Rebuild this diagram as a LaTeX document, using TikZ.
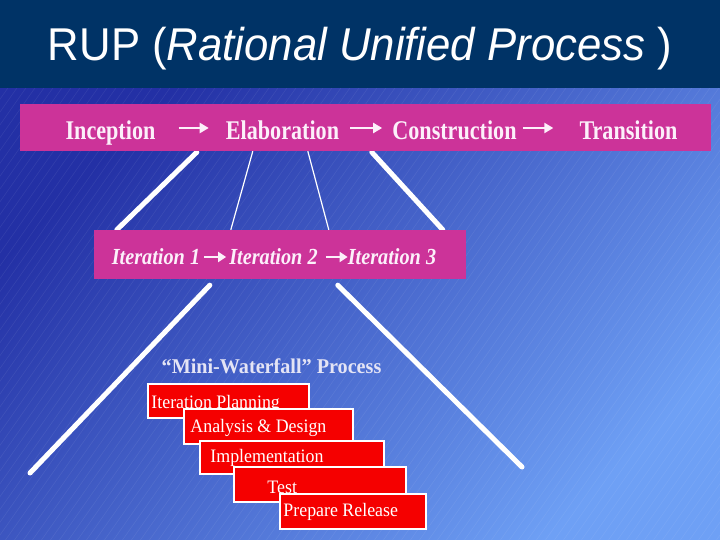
\documentclass[tikz,border=0pt]{standalone}
\usepackage{fontspec}
\setmainfont{Liberation Serif}
\newfontfamily\titlefont[FakeStretch=0.95]{Liberation Sans}
\newfontfamily\phasefont[FakeStretch=0.82]{Liberation Serif}
\newfontfamily\iterfont[FakeStretch=0.88]{Liberation Serif}
\newfontfamily\mwfont[FakeStretch=0.96]{Liberation Serif}
\newfontfamily\stepfont[FakeStretch=0.94]{Liberation Serif}
\usetikzlibrary{arrows.meta,calc}
\definecolor{navy}{RGB}{0,51,102}
\definecolor{bgdark}{RGB}{35,48,165}
\definecolor{bglight}{RGB}{110,160,245}
\definecolor{magbar}{RGB}{204,51,153}
\definecolor{boxred}{RGB}{245,0,0}
\definecolor{mwtext}{RGB}{228,228,245}
\definecolor{phasetext}{RGB}{252,240,250}
\pgfdeclarelayer{back}
\pgfdeclarelayer{mid}
\pgfsetlayers{back,mid,main}
\tikzset{
  bar/.style={fill=magbar, inner sep=0pt},
  phase/.style={font=\phasefont\bfseries\fontsize{27}{27}\selectfont, text=phasetext, inner sep=0pt, anchor=base},
  iter/.style={font=\iterfont\bfseries\itshape\fontsize{23}{23}\selectfont, text=phasetext, inner sep=0pt, anchor=base},
  phasearr/.style={draw=phasetext, line width=2.2pt, -{Triangle[length=9pt,width=10pt]}},
  iterarr/.style={draw=phasetext, line width=2.6pt, -{Triangle[length=8pt,width=10pt]}},
  thickline/.style={draw=white, line width=5pt, line cap=round},
  thinline/.style={draw=white, line width=1.2pt},
  stepbox/.style={fill=boxred, draw=white, line width=1.5pt, inner sep=0pt},
  steptext/.style={font=\stepfont\fontsize{19}{19}\selectfont, text=white, inner sep=0pt, anchor=base west},
  stripe/.style={draw=white, opacity=0.07, line width=0.6pt}
}
\begin{document}
\begin{tikzpicture}[x=1pt,y=-1pt]
\useasboundingbox (0,0) rectangle (720,540);
\begin{pgfonlayer}{back}
  \shade[top color=bgdark, bottom color=bglight, shading angle=45] (0,88) rectangle (720,540);
  \begin{scope}
    \clip (0,88) rectangle (720,540);
    \foreach \i in {-340,-331,...,720} \draw[stripe] (\i,545) -- ++(330,-470);
  \end{scope}
  \fill[navy] (0,0) rectangle (720,88);
\end{pgfonlayer}

% title
\node[font=\titlefont\fontsize{46}{46}\selectfont, text=white, inner sep=0pt, anchor=base] (title) at (360,61)
  {RUP (\textit{Rational Unified Process} )};

% top phases bar
\node[bar, minimum width=691pt, minimum height=47pt] (topbar) at (365.5,127.5) {};
\node[phase] (inc) at (110.5,140) {Inception};
\node[phase] (elab) at (282.5,140) {Elaboration};
\node[phase] (cons) at (454.5,140) {Construction};
\node[phase] (trans) at (628.5,140) {Transition};
\draw[phasearr] ($(inc.base east)+(23,-12)$) -- ($(elab.base west)+(-17,-12)$);
\draw[phasearr] ($(elab.base east)+(11,-12)$) -- ($(cons.base west)+(-10,-12)$);
\draw[phasearr] ($(cons.base east)+(6,-12)$) -- ($(trans.base west)+(-26,-12)$);

% iteration bar
\node[bar, minimum width=372pt, minimum height=49pt] (iterbar) at (280,254.5) {};
\node[iter] (it1) at (156,264) {Iteration 1};
\node[iter] (it2) at (273.5,264) {Iteration 2};
\node[iter] (it3) at (392,264) {Iteration 3};
\draw[iterarr] ($(it1.base east)+(4,-7)$) -- ($(it2.base west)+(-3,-7)$);
\draw[iterarr] ($(it2.base east)+(8,-7)$) -- ($(it3.base west)+(0,-7)$);

% connecting lines
\coordinate (lowleft) at (30,473);
\coordinate (lowright) at (522,467);
\begin{pgfonlayer}{mid}
  \draw[thickline] ($(topbar.south west)+(177,1)$) -- ($(iterbar.north west)+(23,0)$);
  \draw[thinline] ($(topbar.south west)+(233,0)$) -- ($(iterbar.north west)+(137,0)$);
  \draw[thinline] ($(topbar.south west)+(288,0)$) -- ($(iterbar.north west)+(235,0)$);
  \draw[thickline] ($(topbar.south west)+(352,1)$) -- ($(iterbar.north west)+(349,0)$);
  \draw[thickline] ($(iterbar.south west)+(116,6)$) -- (lowleft);
  \draw[thickline] ($(iterbar.south west)+(244,6)$) -- (lowright);
\end{pgfonlayer}

% mini waterfall
\node[font=\mwfont\bfseries\fontsize{21}{21}\selectfont, text=mwtext, inner sep=0pt, anchor=base] (mw) at (271.5,373)
  {“Mini-Waterfall” Process};

\node[stepbox, minimum width=161pt, minimum height=34pt] (b1) at (228.5,401) {};
\node[steptext] (t1) at ($(b1.south west)+(4,-10)$) {Iteration Planning};
\node[stepbox, minimum width=169pt, minimum height=35pt] (b2) at (268.5,426.5) {};
\node[steptext] (t2) at ($(b2.south west)+(7,-12)$) {Analysis \& Design};
\node[stepbox, minimum width=184pt, minimum height=33pt] (b3) at (292,457.5) {};
\node[steptext] (t3) at ($(b3.south west)+(11,-12)$) {Implementation};
\node[stepbox, minimum width=172pt, minimum height=35pt] (b4) at (320,484.5) {};
\node[steptext] (t4) at ($(b4.south west)+(34,-9)$) {Test};
\node[stepbox, minimum width=146pt, minimum height=35pt] (b5) at (353,511.5) {};
\node[steptext] (t5) at ($(b5.south west)+(4,-13)$) {Prepare Release};
\end{tikzpicture}
\end{document}
